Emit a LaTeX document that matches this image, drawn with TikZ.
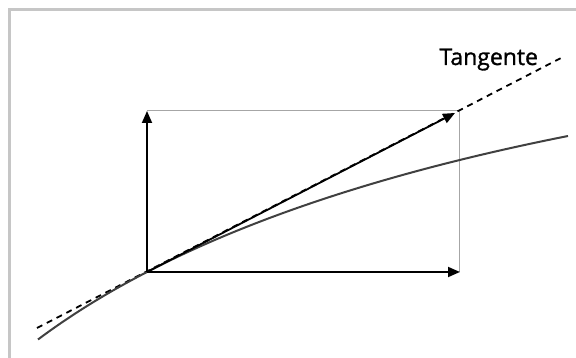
\documentclass[tikz,border=0pt]{standalone}
\usepackage{fontspec}
\setsansfont{Open Sans}
\newfontfamily\tanfont{Open Sans}[FakeBold=1.2]
\usetikzlibrary{positioning, arrows.meta}

\begin{document}
\begin{tikzpicture}[
  x=1pt, y=1pt,
  vec/.style={line width=1.8pt, -{Triangle[length=12pt, width=10pt]}},
  frame/.style={draw=gray!45, line width=3pt},
  guide/.style={draw=gray!70, line width=1pt},
  tangentline/.style={line width=1.8pt, dash pattern=on 6pt off 5pt},
  curveline/.style={draw=black!75, line width=2pt},
  every node/.style={font=\tanfont\fontsize{23}{27}\selectfont}
]
\useasboundingbox (0,0) rectangle (576,358);

% Frame
\draw[frame] (9.5,0) -- (9.5,348) -- (576,348);

% Points
\coordinate (O) at (147,86);
\coordinate (xtip) at (460,86);
\coordinate (ytip) at (147,247);
\coordinate (corner) at (459,247);
\coordinate (ttip) at (455,245);
\coordinate (tanA) at (37,30);
\coordinate (tanB) at (563,301);
\coordinate (cstart) at (38,18.5);
\coordinate (cend) at (568,222);

% Rectangle
\draw[guide] (ytip) -- (corner) -- (459,86);

% Tangent
\draw[tangentline] (tanA) -- (tanB);
\node[anchor=base west] (label) at (436,293) {Tangente};

% Curve
\draw[curveline] (cstart) .. controls (70.2,42.6) and (106.5,65.1) .. (O)
  .. controls (256.3,142.7) and (396.7,188) .. (cend);

% Vectors
\draw[vec] (O) -- (xtip);
\draw[vec] (O) -- (ytip);
\draw[vec] (O) -- (ttip);

\end{tikzpicture}
\end{document}
